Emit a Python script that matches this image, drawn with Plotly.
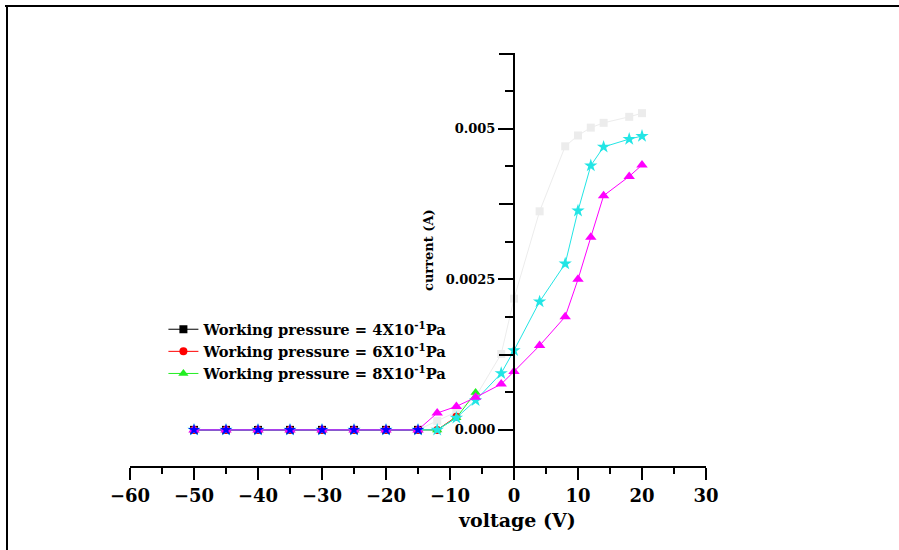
import plotly.graph_objects as go

# ---- data ----
v_flat = [-50, -45, -40, -35, -30, -25, -20, -15]
v_full = [-50, -45, -40, -35, -30, -25, -20, -15, -12, -9, -6, -2, 0, 4, 8, 10, 12, 14, 18, 20]

i_gray = [0, 0, 0, 0, 0, 0, 0, 0, 0.00015, 0.0003, 0.00055, 0.00126, 0.00218, 0.00363,
          0.00471, 0.00489, 0.00502, 0.0051, 0.0052, 0.00526]
i_cyan = [0, 0, 0, 0, 0, 0, 0, 0, 0, 0.0002, 0.00049, 0.00094, 0.00132, 0.00213,
          0.00276, 0.00364, 0.00439, 0.0047, 0.00483, 0.00488]
i_magenta = [0, 0, 0, 0, 0, 0, 0, 0, 0.00028, 0.00039, 0.00054, 0.00076, 0.00097, 0.0014,
             0.00188, 0.0025, 0.0032, 0.00389, 0.00421, 0.0044]

v_black = v_flat
i_black = [0, 0, 0, 0, 0, 0, 0, 0]
v_red = v_flat + [-12, -9]
i_red = [0, 0, 0, 0, 0, 0, 0, 0, 0, 0.00022]
v_green = v_flat + [-12, -9, -6]
i_green = [0, 0, 0, 0, 0, 0, 0, 0, 0, 0.0002, 0.00062]
v_blue = v_flat
i_blue = [0, 0, 0, 0, 0, 0, 0, 0]

legend_names = ["Working pressure = 4X10<sup>-1</sup>Pa",
                "Working pressure = 6X10<sup>-1</sup>Pa",
                "Working pressure = 8X10<sup>-1</sup>Pa"]

x_ticks = [-60, -50, -40, -30, -20, -10, 0, 10, 20, 30]
y_label_ticks = [0, 0.0025, 0.005]
y_label_text = ["0.000", "0.0025", "0.005"]
y_major_ticks = [0, 0.00125, 0.0025, 0.00375, 0.005, 0.00625]

FONT = "DejaVu Serif"
Y_RANGE = [-0.0006, 0.00626]
Y_POS = 0.6667

fig = go.Figure()

fig.add_trace(go.Scatter(x=v_full, y=i_gray, mode="lines+markers", showlegend=False,
                         line=dict(color="#ececec", width=1),
                         marker=dict(symbol="square", size=8, color="#ececec")))
fig.add_trace(go.Scatter(x=v_black, y=i_black, mode="lines+markers", name=legend_names[0],
                         line=dict(color="black", width=1),
                         marker=dict(symbol="square", size=8, color="black")))
fig.add_trace(go.Scatter(x=v_red, y=i_red, mode="lines+markers", name=legend_names[1],
                         line=dict(color="red", width=1),
                         marker=dict(symbol="circle", size=8, color="red")))
fig.add_trace(go.Scatter(x=v_green, y=i_green, mode="lines+markers", name=legend_names[2],
                         line=dict(color="#22ee22", width=1),
                         marker=dict(symbol="triangle-up", size=9, color="#22ee22")))
fig.add_trace(go.Scatter(x=v_blue, y=i_blue, mode="lines", showlegend=False,
                         line=dict(color="blue", width=1)))
fig.add_trace(go.Scatter(x=v_full, y=i_cyan, mode="lines+markers", showlegend=False,
                         line=dict(color="#22e5e5", width=1),
                         marker=dict(symbol="star", size=10, color="#22e5e5")))
fig.add_trace(go.Scatter(x=v_full, y=i_magenta, mode="lines+markers", showlegend=False,
                         line=dict(color="#ff00ff", width=1),
                         marker=dict(symbol="triangle-up", size=10, color="#ff00ff")))
fig.add_trace(go.Scatter(x=v_blue, y=i_blue, mode="markers", showlegend=False,
                         marker=dict(symbol="star", size=9, color="blue")))
# empty trace so the long-tick overlay axis is drawn
fig.add_trace(go.Scatter(x=[], y=[], yaxis="y2", showlegend=False, hoverinfo="skip"))

fig.update_layout(
    width=899, height=550,
    margin=dict(l=130, r=193, t=53, b=84),
    paper_bgcolor="white", plot_bgcolor="white",
    font=dict(family=FONT, color="black", weight="bold"),
    xaxis=dict(range=[-60, 30], tickvals=x_ticks, showgrid=False, zeroline=False,
               showline=True, linecolor="black", linewidth=2,
               ticks="outside", ticklen=12, tickwidth=2, tickcolor="black",
               minor=dict(dtick=5, tick0=0, ticks="outside", ticklen=6, tickwidth=2,
                          tickcolor="black"),
               tickfont=dict(family=FONT, size=18, weight="bold")),
    yaxis=dict(range=Y_RANGE, anchor="free", position=Y_POS, side="left",
               tickvals=y_label_ticks, ticktext=y_label_text, showgrid=False, zeroline=False,
               showline=True, linecolor="black", linewidth=2,
               ticks="outside", ticklen=15, tickwidth=2, tickcolor="black",
               minor=dict(dtick=0.000625, tick0=0, ticks="outside", ticklen=8,
                          tickwidth=2, tickcolor="black"),
               tickfont=dict(family=FONT, size=13, weight="bold")),
    yaxis2=dict(range=Y_RANGE, overlaying="y", anchor="free", position=Y_POS, side="left",
                tickvals=y_major_ticks, showticklabels=False, showgrid=False,
                zeroline=False, showline=False,
                ticks="outside", ticklen=15, tickwidth=2, tickcolor="black"),
    legend=dict(x=0.058, y=0.37, xanchor="left", yanchor="top",
                bgcolor="rgba(0,0,0,0)", font=dict(family=FONT, size=14.7, weight="bold"),
                tracegroupgap=0),
    annotations=[
        dict(text="voltage (V)", xref="paper", yref="paper", x=(517 - 130) / 576,
             y=(466 - 520) / 413, xanchor="center", yanchor="middle", showarrow=False,
             font=dict(family=FONT, size=19, weight="bold")),
        dict(text="current (A)", xref="paper", yref="paper", x=(428 - 130) / 576,
             y=(466 - 250) / 413, xanchor="center", yanchor="middle", showarrow=False,
             textangle=-90, font=dict(family=FONT, size=13, weight="bold")),
    ],
    shapes=[
        dict(type="line", xref="paper", yref="paper", x0=(5 - 130) / 576, x1=(899 - 130) / 576,
             y0=(466 - 6) / 413, y1=(466 - 6) / 413, line=dict(color="black", width=2)),
        dict(type="line", xref="paper", yref="paper", x0=(7 - 130) / 576, x1=(7 - 130) / 576,
             y0=(466 - 6) / 413, y1=(466 - 550) / 413, line=dict(color="black", width=2)),
    ],
)

fig.write_html("out.html")
